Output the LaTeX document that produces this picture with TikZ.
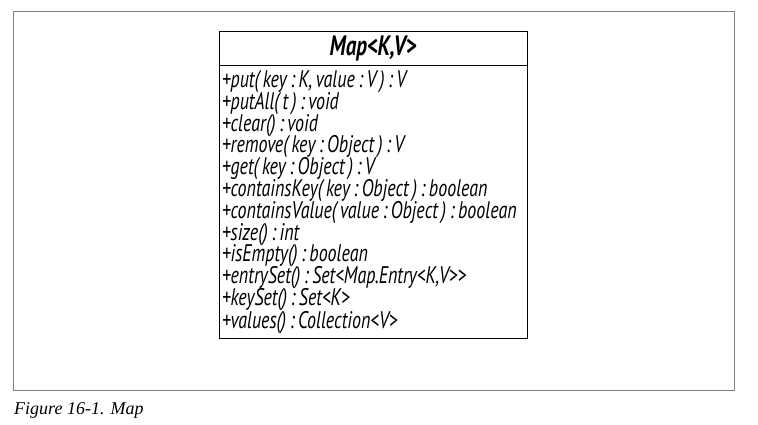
\documentclass[tikz,border=0pt]{standalone}
\usepackage{fontspec}
\setsansfont[FakeStretch=0.75]{PT Sans}
\setmainfont{Liberation Serif}
\usetikzlibrary{positioning}

\newcommand{\opsspacing}{\frenchspacing\spaceskip=3.5pt plus 1pt\relax\xspaceskip=3.5pt plus 1pt\relax\lineskiplimit=-20pt\relax}

\tikzset{
  classbox/.style={draw, line width=0.8pt, minimum width=308pt, inner xsep=3pt},
  opsfont/.style={font=\sffamily\itshape\fontsize{24}{21.8}\selectfont}
}

\begin{document}
\begin{tikzpicture}[x=1pt,y=-1pt]
            \useasboundingbox (0,0) rectangle (758,424);

            % Outer frame
            \draw[gray, line width=1pt] (13,11) rectangle (734,390);

            % Class name
            \node[classbox, minimum height=34pt, font=\sffamily\bfseries\itshape\fontsize{28}{28}\selectfont] (mapname) at (373,48) {Map<K,V>};

            % Operations
            \node[classbox, opsfont, anchor=north, below=0pt of mapname, minimum height=273pt, text width=302pt, align=left] (mapops) {\opsspacing
                +put( key : K, value : V ) : V\\
                +putAll( t ) : void\\
                +clear() : void\\
                +remove( key : Object ) : V\\
                +get( key : Object ) : V\\
                +containsKey( key : Object ) : boolean\\
                +containsValue( value : Object ) : boolean\\
                +size() : int\\
                +isEmpty() : boolean\\
                +entrySet() : Set<Map.Entry<K,V>{}>\\
                +keySet() : Set<K>\\
                +values() : Collection<V>};

            % Caption
            \node[anchor=base west, inner sep=0pt, font=\itshape\fontsize{18}{18}\selectfont] (caption) at (14,414) {Figure 16-1. Map};
        \end{tikzpicture}
\end{document}
